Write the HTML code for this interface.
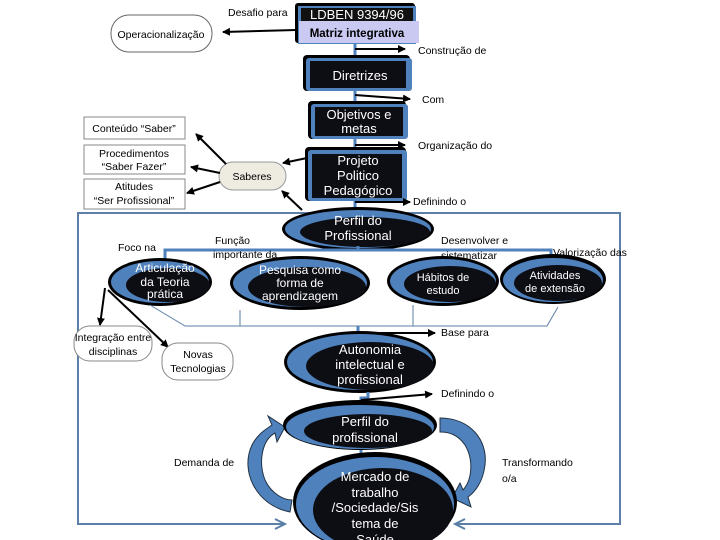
<!DOCTYPE html>
<html><head><meta charset="utf-8"><style>
html,body{margin:0;padding:0;background:#fff}
svg{display:block}
text{font-family:"Liberation Sans",sans-serif}
.w{fill:#fff;font-size:13px;text-anchor:middle}
.ws{fill:#fff;font-size:11px;text-anchor:middle}
.b{fill:#000;font-size:10.5px}
.bc{fill:#000;font-size:10.5px;text-anchor:middle}
</style></head><body>
<svg width="720" height="540" viewBox="0 0 720 540" xmlns="http://www.w3.org/2000/svg">
<defs>
<marker id="a" markerWidth="8" markerHeight="8" refX="7" refY="4" orient="auto" markerUnits="userSpaceOnUse"><path d="M0,0 L8,4 L0,8z" fill="#000"/></marker>
<marker id="ab" markerWidth="10" markerHeight="10" refX="9" refY="5" orient="auto" markerUnits="userSpaceOnUse"><path d="M0,0 L10,5 L0,10z" fill="#4f81bd"/></marker>
</defs>

<!-- big frame -->
<polyline points="285,524 78,524 78,213 620,213 620,524 455,524" fill="none" stroke="#5b7fa6" stroke-width="2"/>
<path d="M275,519 L285,524 L275,529" fill="none" stroke="#5b7fa6" stroke-width="2"/>
<path d="M465,519 L455,524 L465,529" fill="none" stroke="#5b7fa6" stroke-width="2"/>

<!-- top LDBEN -->
<rect x="295" y="3" width="120" height="40" rx="3" fill="#000"/>
<rect x="298" y="6" width="118" height="38" fill="#4f81bd"/>
<rect x="301" y="8" width="112" height="13" fill="#111"/>
<text x="357" y="19" class="w" style="font-size:13px">LDBEN 9394/96</text>
<rect x="299" y="21" width="120" height="22" fill="#c9c9f2"/>
<text x="357" y="37" style="font-family:'Liberation Sans',sans-serif;font-weight:bold;font-size:11.5px;text-anchor:middle">Matriz integrativa</text>
<text x="228" y="16" class="b">Desafio para</text>
<rect x="111" y="15" width="101" height="37" rx="18" fill="#fff" stroke="#666"/>
<text x="161" y="38" class="bc">Operacionalização</text>
<line x1="296" y1="30" x2="223" y2="32" stroke="#000" stroke-width="2" marker-end="url(#a)"/>

<line x1="355" y1="44" x2="355" y2="58" stroke="#4f81bd" stroke-width="3"/>
<line x1="355" y1="49" x2="405" y2="49" stroke="#000" stroke-width="2" marker-end="url(#a)"/>
<text x="418" y="54" class="b">Construção de</text>

<!-- Diretrizes -->
<rect x="303" y="55" width="107" height="36" rx="4" fill="#000"/>
<rect x="306" y="58" width="106" height="33" rx="3" fill="#4f81bd"/>
<rect x="310" y="61" width="96" height="27" fill="#0d0d14"/>
<text x="360" y="80" class="w">Diretrizes</text>
<line x1="355" y1="91" x2="355" y2="102" stroke="#4f81bd" stroke-width="3"/>
<line x1="355" y1="95" x2="410" y2="99" stroke="#000" stroke-width="2" marker-end="url(#a)"/>
<text x="422" y="103" class="b">Com</text>

<!-- Objetivos -->
<rect x="308" y="101" width="98" height="38" rx="4" fill="#000"/>
<rect x="311" y="104" width="97" height="35" rx="3" fill="#4f81bd"/>
<rect x="315" y="107" width="88" height="29" fill="#0d0d14"/>
<text x="359" y="119" class="w">Objetivos e</text>
<text x="359" y="133" class="w">metas</text>
<line x1="355" y1="139" x2="355" y2="150" stroke="#4f81bd" stroke-width="3"/>
<line x1="355" y1="145" x2="405" y2="145" stroke="#000" stroke-width="2" marker-end="url(#a)"/>
<text x="418" y="149" class="b">Organização do</text>

<!-- PPP -->
<rect x="305" y="147" width="101" height="54" rx="4" fill="#000"/>
<rect x="308" y="150" width="99" height="51" rx="3" fill="#4f81bd"/>
<rect x="312" y="154" width="90" height="44" fill="#0d0d14"/>
<text x="358" y="165" class="w">Projeto</text>
<text x="358" y="180" class="w">Politico</text>
<text x="358" y="195" class="w">Pedagógico</text>
<line x1="355" y1="201" x2="355" y2="212" stroke="#4f81bd" stroke-width="3"/>
<line x1="355" y1="202" x2="410" y2="202" stroke="#000" stroke-width="2" marker-end="url(#a)"/>
<text x="413" y="205" class="b">Definindo o</text>

<!-- Saberes -->
<rect x="219" y="162" width="67" height="28" rx="14" fill="#eeece1" stroke="#999"/>
<text x="252" y="180" class="bc">Saberes</text>
<line x1="307" y1="158" x2="283" y2="163" stroke="#000" stroke-width="2" marker-end="url(#a)"/>
<line x1="302" y1="210" x2="282" y2="191" stroke="#000" stroke-width="2" marker-end="url(#a)"/>
<line x1="226" y1="164" x2="196" y2="134" stroke="#000" stroke-width="2" marker-end="url(#a)"/>
<line x1="220" y1="173" x2="191" y2="167" stroke="#000" stroke-width="2" marker-end="url(#a)"/>
<line x1="220" y1="182" x2="187" y2="193" stroke="#000" stroke-width="2" marker-end="url(#a)"/>
<rect x="84" y="117" width="101" height="22" fill="#fff" stroke="#888"/>
<text x="134" y="132" class="bc">Conteúdo “Saber”</text>
<rect x="84" y="145" width="101" height="29" fill="#fff" stroke="#888"/>
<text x="134" y="157" class="bc">Procedimentos</text>
<text x="134" y="170" class="bc">“Saber Fazer”</text>
<rect x="84" y="179" width="101" height="30" fill="#fff" stroke="#888"/>
<text x="134" y="190" class="bc">Atitudes</text>
<text x="134" y="204" class="bc">“Ser Profissional”</text>

<!-- Perfil do Profissional -->
<ellipse cx="358" cy="229" rx="76" ry="22" fill="#000"/>
<ellipse cx="358" cy="229" rx="73" ry="19" fill="#4f81bd"/>
<ellipse cx="365" cy="232" rx="65" ry="15" fill="#0d0d14"/>
<text x="358" y="225" class="w">Perfil do</text>
<text x="358" y="240" class="w">Profissional</text>

<!-- bracket -->
<polyline points="165,268 165,250 551,250 551,265" fill="none" stroke="#4f81bd" stroke-width="3"/>
<line x1="358" y1="246" x2="358" y2="251" stroke="#4f81bd" stroke-width="3"/>
<text x="118" y="251" class="b">Foco na</text>
<text x="215" y="244" class="b">Função</text>
<text x="213" y="258" class="b">importante da</text>
<text x="441" y="244" class="b">Desenvolver e</text>
<text x="441" y="259" class="b">sistematizar</text>
<text x="553" y="256" class="b">Valorização das</text>

<!-- row ellipses -->
<g>
<ellipse cx="160" cy="282" rx="52" ry="24" fill="#000"/>
<ellipse cx="160" cy="282" rx="49" ry="21" fill="#4f81bd"/>
<ellipse cx="168" cy="285" rx="42" ry="17" fill="#0d0d14"/>
<text x="165" y="272" class="ws" style="font-size:12px">Articulação</text>
<text x="165" y="286" class="ws" style="font-size:12px">da Teoria</text>
<text x="165" y="298" class="ws" style="font-size:12px">prática</text>
</g>
<g>
<ellipse cx="300" cy="283" rx="70" ry="27" fill="#000"/>
<ellipse cx="300" cy="283" rx="67" ry="24" fill="#4f81bd"/>
<ellipse cx="307" cy="287" rx="59" ry="20" fill="#0d0d14"/>
<text x="300" y="274" class="ws" style="font-size:12px">Pesquisa como</text>
<text x="300" y="287" class="ws" style="font-size:12px">forma de</text>
<text x="300" y="300" class="ws" style="font-size:12px">aprendizagem</text>
</g>
<g>
<ellipse cx="443" cy="281" rx="56" ry="25" fill="#000"/>
<ellipse cx="443" cy="281" rx="53" ry="22" fill="#4f81bd"/>
<ellipse cx="450" cy="284" rx="46" ry="18" fill="#0d0d14"/>
<text x="443" y="281" class="ws">Hábitos de</text>
<text x="443" y="294" class="ws">estudo</text>
</g>
<g>
<ellipse cx="553" cy="279" rx="53" ry="25" fill="#000"/>
<ellipse cx="553" cy="280" rx="50" ry="22" fill="#4f81bd"/>
<ellipse cx="558" cy="283" rx="44" ry="18" fill="#0d0d14"/>
<text x="555" y="279" class="ws">Atividades</text>
<text x="555" y="292" class="ws">de extensão</text>
</g>

<!-- lower bracket -->
<polyline points="150,305 185,326 547,326 558,307" fill="none" stroke="#5b7fa6" stroke-width="1"/>
<line x1="240" y1="310" x2="240" y2="326" stroke="#5b7fa6"/>
<line x1="413" y1="305" x2="413" y2="326" stroke="#5b7fa6"/>
<line x1="358" y1="326" x2="358" y2="340" stroke="#4f81bd" stroke-width="3"/>
<line x1="358" y1="333" x2="435" y2="333" stroke="#000" stroke-width="2" marker-end="url(#a)"/>
<text x="441" y="336" class="b">Base para</text>

<line x1="105" y1="288" x2="100" y2="325" stroke="#000" stroke-width="2" marker-end="url(#a)"/>
<line x1="108" y1="290" x2="168" y2="347" stroke="#000" stroke-width="2" marker-end="url(#a)"/>
<rect x="74" y="326" width="78" height="35" rx="16" fill="#fff" stroke="#888"/>
<text x="113" y="341" class="bc">Integração entre</text>
<text x="113" y="355" class="bc">disciplinas</text>
<rect x="162" y="343" width="71" height="37" rx="16" fill="#fff" stroke="#888"/>
<text x="198" y="358" class="bc">Novas</text>
<text x="198" y="372" class="bc">Tecnologias</text>

<!-- Autonomia -->
<ellipse cx="360" cy="362" rx="76" ry="31" fill="#000"/>
<ellipse cx="360" cy="362" rx="73" ry="28" fill="#4f81bd"/>
<ellipse cx="370" cy="366" rx="64" ry="24" fill="#0d0d14"/>
<text x="370" y="354" class="w">Autonomia</text>
<text x="370" y="369" class="w">intelectual e</text>
<text x="370" y="384" class="w">profissional</text>
<polyline points="368,392 368,398 361,398 361,405" fill="none" stroke="#4f81bd" stroke-width="3"/>
<line x1="361" y1="400" x2="432" y2="394" stroke="#000" stroke-width="2" marker-end="url(#a)"/>
<text x="441" y="397" class="b">Definindo o</text>

<!-- curved arrows -->
<path d="M290,512 C255,505 240,470 252,445 C258,433 268,428 272,425 L268,416 L285,427 L277,442 L275,433 C262,440 258,462 265,480 C272,495 285,500 292,500 Z" fill="#4f81bd" stroke="#234" stroke-width="1"/>
<path d="M440,418 C470,418 488,440 485,465 C483,482 475,492 468,497 L471,507 L452,498 L460,483 L463,490 C472,480 474,460 465,445 C458,435 450,432 440,432 Z" fill="#4f81bd" stroke="#234" stroke-width="1"/>
<text x="174" y="466" class="b">Demanda de</text>
<text x="502" y="466" class="b">Transformando</text>
<text x="502" y="482" class="b">o/a</text>

<!-- Perfil do profissional -->
<ellipse cx="360" cy="425" rx="77" ry="25" fill="#000"/>
<ellipse cx="360" cy="427" rx="74" ry="22" fill="#4f81bd"/>
<ellipse cx="368" cy="431" rx="64" ry="17" fill="#0d0d14"/>
<text x="365" y="426" class="w">Perfil do</text>
<text x="365" y="442" class="w">profissional</text>
<polyline points="361,450 361,460 365,460 365,468" fill="none" stroke="#4f81bd" stroke-width="3"/>

<!-- Mercado -->
<ellipse cx="375" cy="502" rx="82" ry="50" fill="#000"/>
<ellipse cx="375" cy="504" rx="79" ry="47" fill="#4f81bd"/>
<ellipse cx="383" cy="510" rx="70" ry="42" fill="#0d0d14"/>
<text x="375" y="481" class="w">Mercado de</text>
<text x="375" y="497" class="w">trabalho</text>
<text x="375" y="512" class="w">/Sociedade/Sis</text>
<text x="375" y="528" class="w">tema de</text>
<text x="375" y="544" class="w">Saúde</text>
</svg>
</body></html>
